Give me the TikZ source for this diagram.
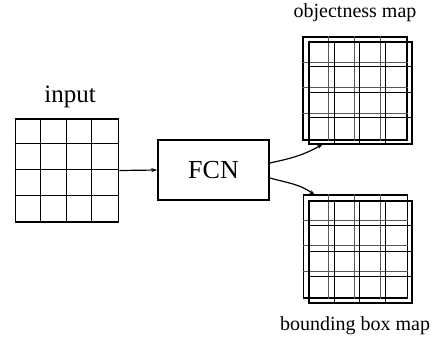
\documentclass[tikz,border=0pt]{standalone}
\usepackage{fontspec}
\setmainfont{Liberation Serif}
\usetikzlibrary{arrows.meta}
\begin{document}
\begin{tikzpicture}[x=1pt,y=-1pt,
  gridbox/.style={draw=black,line width=1.6pt,minimum width=103pt,minimum height=103pt,inner sep=0pt},
  fcnbox/.style={draw=black,line width=1.4pt,minimum width=111pt,minimum height=60pt,inner sep=0pt,font=\fontsize{26pt}{28pt}\selectfont},
  lbl/.style={inner sep=0pt,font=\fontsize{25pt}{27pt}\selectfont},
  maplbl/.style={inner sep=0pt,font=\fontsize{20pt}{22pt}\selectfont},
  innerline/.style={line width=1pt,draw=black},
  backline/.style={line width=1pt,draw=black!65},
  arr/.style={line width=1.2pt,-{Stealth[length=6pt,width=4pt]}}]
\useasboundingbox (0,0) rectangle (437,341);
% input
\node[gridbox] (inp) at (67,170.5) {};
\foreach \i in {1,2,3}{
  \draw[innerline] ([xshift=\i*25.75pt]inp.north west) -- ([xshift=\i*25.75pt]inp.south west);
  \draw[innerline] ([yshift=-\i*25.75pt]inp.north west) -- ([yshift=-\i*25.75pt]inp.north east);
}
\node[lbl] (inpl) at (70,97) {input};
% FCN
\node[fcnbox] (fcn) at (213.5,170) {FCN};
\draw[arr] (inp.east) -- (fcn.west);
% objectness maps
\node[gridbox,line width=1.4pt,minimum width=104pt,minimum height=103pt] (ob) at (355,88.5) {};
\foreach \i in {1,2,3}{
  \draw[backline] ([xshift=\i*26pt]ob.north west) -- ([xshift=\i*26pt]ob.south west);
  \draw[backline] ([yshift=-\i*25.75pt]ob.north west) -- ([yshift=-\i*25.75pt]ob.north east);
}
\node[gridbox,line width=1.4pt,minimum width=103pt,minimum height=102pt] (of) at (360.5,93) {};
\foreach \i in {1,2,3}{
  \draw[innerline] ([xshift=\i*25.75pt]of.north west) -- ([xshift=\i*25.75pt]of.south west);
  \draw[innerline] ([yshift=-\i*25.5pt]of.north west) -- ([yshift=-\i*25.5pt]of.north east);
}
\node[maplbl] (obl) at (355,13) {objectness map};
% bounding box maps
\node[gridbox,line width=1.4pt,minimum width=104pt,minimum height=103pt] (bb) at (355.5,246.5) {};
\foreach \i in {1,2,3}{
  \draw[backline] ([xshift=\i*26pt]bb.north west) -- ([xshift=\i*26pt]bb.south west);
  \draw[backline] ([yshift=-\i*25.75pt]bb.north west) -- ([yshift=-\i*25.75pt]bb.north east);
}
\node[gridbox,line width=1.4pt,minimum width=103pt,minimum height=102pt] (bf) at (360.5,252) {};
\foreach \i in {1,2,3}{
  \draw[innerline] ([xshift=\i*25.75pt]bf.north west) -- ([xshift=\i*25.75pt]bf.south west);
  \draw[innerline] ([yshift=-\i*25.5pt]bf.north west) -- ([yshift=-\i*25.5pt]bf.north east);
}
\node[maplbl] (bbl) at (355,326) {bounding box map};
% arrows from FCN
\coordinate (ta) at (323,144);
\coordinate (tb) at (315,195);
\draw[arr] ([yshift=7pt]fcn.east) to[out=12,in=-150] (ta);
\draw[arr] ([yshift=-8pt]fcn.east) to[out=-15,in=145] (tb);
\end{tikzpicture}
\end{document}
